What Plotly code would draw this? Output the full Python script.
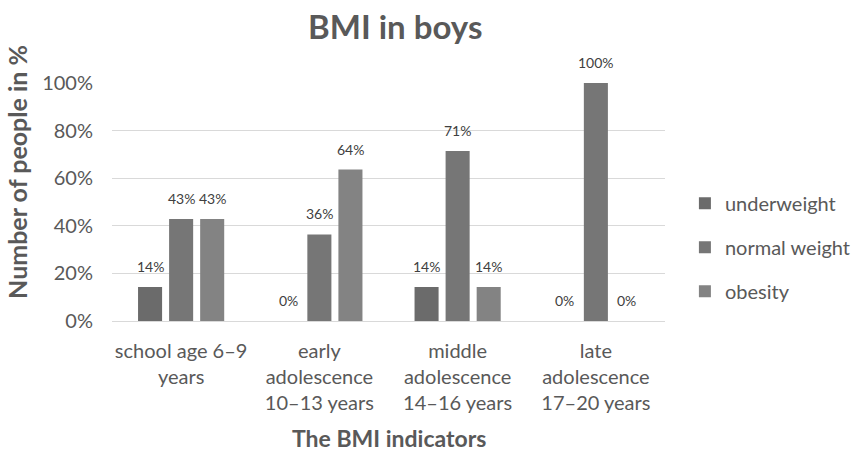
import plotly.graph_objects as go

categories = ["school age 6–9<br>years", "early<br>adolescence<br>10–13 years",
              "middle<br>adolescence<br>14–16 years", "late<br>adolescence<br>17–20 years"]
underweight = [0.1429, 0.0, 0.1429, 0.0]
normal_weight = [0.4286, 0.3636, 0.7143, 1.0]
obesity = [0.4286, 0.6364, 0.1429, 0.0]
series_names = ["underweight", "normal weight", "obesity"]
colors = ["#6b6b6b", "#767676", "#838383"]

FONT = "Lato"
GRAY = "#595959"
BARGAP = 0.326
series = [underweight, normal_weight, obesity]

fig = go.Figure()
for i, (name, vals) in enumerate(zip(series_names, series)):
    fig.add_trace(go.Bar(
        x=categories, y=vals, name=name, legendgroup=name,
        marker=dict(color=colors[i], line=dict(width=0)),
    ))

# data labels placed above each bar, derived from the data
slot = (1 - BARGAP) / len(series)
annotations = []
for i, vals in enumerate(series):
    off = (i - (len(series) - 1) / 2) * slot
    for j, v in enumerate(vals):
        annotations.append(dict(
            x=j + off, y=v, xref="x", yref="y", text=f"{round(v*100)}%",
            showarrow=False, yanchor="bottom", yshift=10,
            font=dict(family=FONT, size=14, color="#404040"),
        ))

annotations += [
    dict(text="<b>BMI in boys</b>", xref="paper", yref="paper", x=0.5115, y=1.24,
         xanchor="center", yanchor="middle", showarrow=False,
         font=dict(family=FONT, size=33, color=GRAY)),
    dict(text="<b>The BMI indicators</b>", xref="paper", yref="paper", x=0.5, y=-0.49,
         xanchor="center", yanchor="middle", showarrow=False,
         font=dict(family=FONT, size=23, color=GRAY)),
    dict(text="<b>Number of people in %</b>", xref="paper", yref="paper", x=-0.172, y=0.626,
         xanchor="center", yanchor="middle", showarrow=False, textangle=-90,
         font=dict(family=FONT, size=25, color=GRAY)),
]

fig.update_layout(
    width=860, height=451,
    margin=dict(l=112, r=195, t=83, b=130, autoexpand=False),
    paper_bgcolor="white", plot_bgcolor="white",
    font=dict(family=FONT, color=GRAY),
    barmode="group", bargap=BARGAP, bargroupgap=0.226,
    legend=dict(x=1.036, xanchor="left", y=0.31, yanchor="middle",
                font=dict(family=FONT, size=20, color=GRAY),
                tracegroupgap=15, itemsizing="constant"),
    annotations=annotations,
)
fig.update_xaxes(
    tickfont=dict(family=FONT, size=20, color=GRAY),
    showline=True, linecolor="#d9d9d9", linewidth=1, ticks="",
    automargin=False, ticklabelstandoff=12,
)
fig.update_yaxes(
    range=[0, 1.0], tickvals=[0, 0.2, 0.4, 0.6, 0.8, 1.0], tickformat=".0%",
    tickfont=dict(family=FONT, size=20, color=GRAY),
    showgrid=True, gridcolor="#d9d9d9", gridwidth=1, zeroline=False,
    ticks="", ticklabelstandoff=18, automargin=False,
)
fig.write_html("out.html", config={"displayModeBar": False},
               post_script="document.body.style.margin='0';")
